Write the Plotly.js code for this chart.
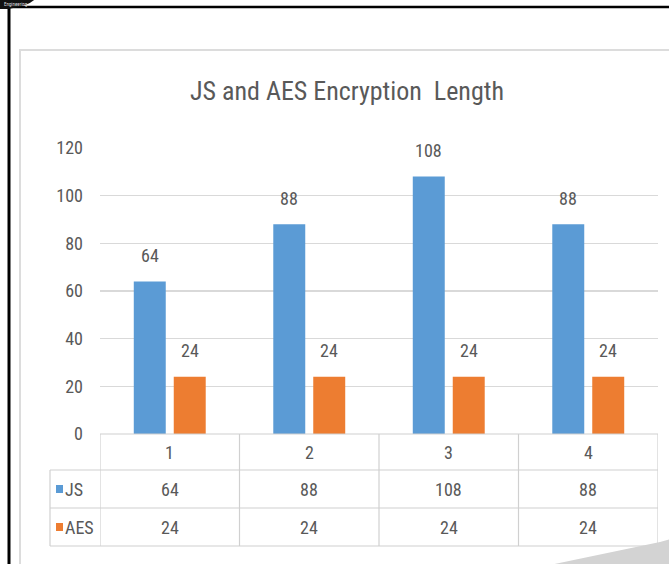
<!DOCTYPE html>
<html>
<head>
<meta charset="utf-8">
<script src="https://cdn.plot.ly/plotly-3.0.1.min.js"></script>
<style>html,body{margin:0;padding:0;background:#fff;}#chart{width:669px;height:564px;}</style>
</head>
<body>
<div id="chart"></div>
<script>
// ---- data ----
const categories = ['1', '2', '3', '4'];
const seriesNames = ['JS', 'AES'];
const jsValues = [64, 88, 108, 88];
const aesValues = [24, 24, 24, 24];
const yTickVals = [0, 20, 40, 60, 80, 100, 120];
const chartTitle = 'JS and AES Encryption  Length';

// ---- style / layout constants ----
const W = 669, H = 564;
const PL = 100, PR = 658, PT = 148, PB = 434; // plot area in px
const colors = ['#5B9BD5', '#ED7D31'];
const textColor = '#595959';
const gridColor = '#d9d9d9';
const FONT = '"Roboto Condensed", Roboto, sans-serif';

const px2x = px => (px - PL) / (PR - PL);
const px2y = py => (PB - py) / (PB - PT);

const xs = categories.map((c, i) => i + 1);

const traces = [
  {type: 'bar', name: seriesNames[0], x: xs, y: jsValues, marker: {color: colors[0]}, hoverinfo: 'none'},
  {type: 'bar', name: seriesNames[1], x: xs, y: aesValues, marker: {color: colors[1]}, hoverinfo: 'none'}
];

const shapes = [];
const annotations = [];

// outer black page border
shapes.push({type: 'line', xref: 'paper', yref: 'paper', x0: px2x(7), x1: px2x(W + 5), y0: px2y(7), y1: px2y(7), line: {color: '#000', width: 2.5}});
shapes.push({type: 'line', xref: 'paper', yref: 'paper', x0: px2x(9), x1: px2x(9), y0: px2y(6), y1: px2y(H + 5), line: {color: '#000', width: 3}});
// logo fragment at top-left
shapes.push({type: 'path', xref: 'paper', yref: 'paper', fillcolor: '#111', line: {width: 0},
  path: `M ${px2x(0)} ${px2y(-2)} L ${px2x(36)} ${px2y(-2)} Q ${px2x(30)} ${px2y(6)} ${px2x(8)} ${px2y(9)} L ${px2x(0)} ${px2y(9)} Z`});
annotations.push({xref: 'paper', yref: 'paper', x: px2x(2), y: px2y(4), xanchor: 'left', yanchor: 'middle', showarrow: false,
  text: 'Engineering', font: {family: FONT, size: 5, color: '#ddd'}});

// chart frame (light gray)
shapes.push({type: 'rect', xref: 'paper', yref: 'paper', x0: px2x(20), x1: px2x(W + 20), y0: px2y(50), y1: px2y(H + 20), line: {color: '#dcdcdc', width: 2}});

// data table grid
const rowTop = PB, rowCat = 470, rowJS = 508, rowAES = 546, tableLeft = 50;
const tblLine = {color: '#d0d0d0', width: 1.2};
[rowCat, rowJS, rowAES].forEach(py => {
  shapes.push({type: 'line', xref: 'paper', yref: 'paper', x0: px2x(tableLeft), x1: px2x(PR), y0: px2y(py), y1: px2y(py), line: tblLine});
});
shapes.push({type: 'line', xref: 'paper', yref: 'paper', x0: px2x(PL), x1: px2x(PR), y0: px2y(rowTop), y1: px2y(rowTop), line: tblLine});
shapes.push({type: 'line', xref: 'paper', yref: 'paper', x0: px2x(tableLeft), x1: px2x(tableLeft), y0: px2y(rowCat), y1: px2y(rowAES), line: tblLine});
for (let i = 0; i <= categories.length; i++) {
  shapes.push({type: 'line', xref: 'x', yref: 'paper', x0: i + 0.5, x1: i + 0.5, y0: px2y(rowTop), y1: px2y(rowAES), line: tblLine});
}

// table text
const rowCenter = (a, b) => px2y((a + b) / 2);
const tfont = {family: FONT, size: 18, color: textColor};
categories.forEach((c, i) => {
  annotations.push({xref: 'x', yref: 'paper', x: i + 1, y: rowCenter(rowTop, rowCat), xanchor: 'center', yanchor: 'middle', text: c, showarrow: false, font: tfont});
  annotations.push({xref: 'x', yref: 'paper', x: i + 1, y: rowCenter(rowCat, rowJS), xanchor: 'center', yanchor: 'middle', text: String(jsValues[i]), showarrow: false, font: tfont});
  annotations.push({xref: 'x', yref: 'paper', x: i + 1, y: rowCenter(rowJS, rowAES), xanchor: 'center', yanchor: 'middle', text: String(aesValues[i]), showarrow: false, font: tfont});
});
// legend keys inside table
[[rowCat, rowJS], [rowJS, rowAES]].forEach((r, k) => {
  const cy = (r[0] + r[1]) / 2;
  shapes.push({type: 'rect', xref: 'paper', yref: 'paper', x0: px2x(56), x1: px2x(63), y0: px2y(cy - 4), y1: px2y(cy + 4), fillcolor: colors[k], line: {width: 0}});
  annotations.push({xref: 'paper', yref: 'paper', x: px2x(63), y: px2y(cy), xanchor: 'left', yanchor: 'middle', text: seriesNames[k], showarrow: false, font: tfont});
});

// data labels above bars
const lfont = {family: FONT, size: 18, color: textColor};
[jsValues, aesValues].forEach((vals, k) => {
  vals.forEach((v, i) => {
    annotations.push({xref: 'x', yref: 'y', x: i + 1, y: v, text: String(v), showarrow: false,
      xshift: k === 0 ? -20 : 20, yshift: 26, xanchor: 'center', yanchor: 'middle', font: lfont});
  });
});

// page curl in bottom-right corner
shapes.push({type: 'path', xref: 'paper', yref: 'paper', fillcolor: '#d3d3d3', line: {width: 0},
  path: `M ${px2x(545)} ${px2y(H + 2)} L ${px2x(660)} ${px2y(542)} L ${px2x(W + 2)} ${px2y(539)} L ${px2x(W + 2)} ${px2y(H + 2)} Z`});

const layout = {
  width: W, height: H,
  margin: {l: PL, r: W - PR, t: PT, b: H - PB, pad: 0},
  paper_bgcolor: '#ffffff', plot_bgcolor: '#ffffff',
  showlegend: false,
  barmode: 'group', bargap: 0.427, bargroupgap: 0.2,
  title: {text: chartTitle, x: 347 / W, xanchor: 'center', xref: 'container', y: 1 - 91 / H, yanchor: 'middle', yref: 'container',
    font: {family: FONT, size: 26, color: textColor}},
  xaxis: {type: 'linear', range: [0.5, 4.5], showticklabels: false, showgrid: false, zeroline: false, ticks: '', fixedrange: true},
  yaxis: {range: [0, 120], tickvals: yTickVals, ticktext: yTickVals.map(String), showgrid: true, gridcolor: gridColor, gridwidth: 1.2,
    zeroline: false, ticks: '', ticklabelstandoff: 16, tickfont: {family: FONT, size: 18, color: textColor}, fixedrange: true},
  shapes: shapes,
  annotations: annotations,
  font: {family: FONT, color: textColor}
};

Plotly.newPlot('chart', traces, layout, {displayModeBar: false, staticPlot: true});
</script>
</body>
</html>
